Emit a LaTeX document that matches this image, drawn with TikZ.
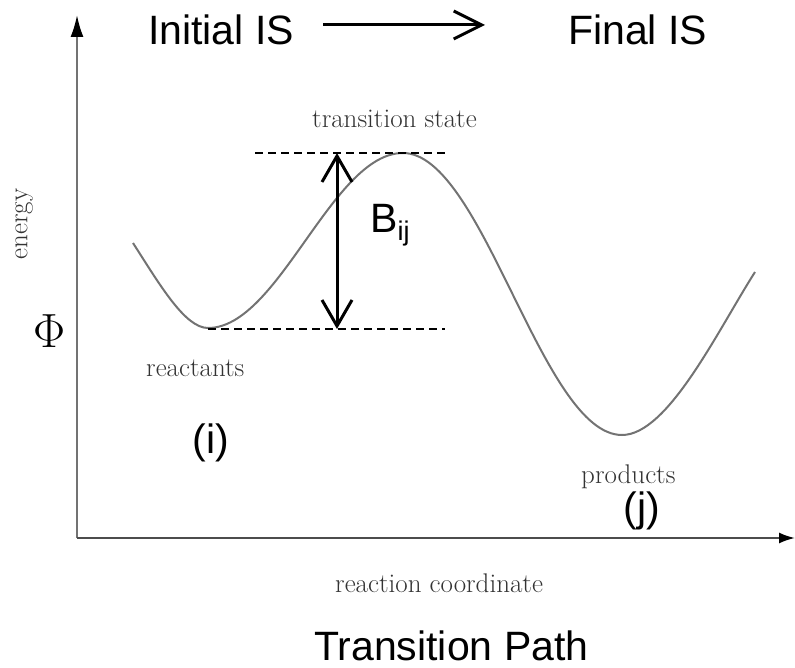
\documentclass[tikz,border=0pt]{standalone}
\usepackage{fontspec}
\newfontfamily\arialfont{Liberation Sans}
\usetikzlibrary{arrows.meta}
\begin{document}
\begin{tikzpicture}[x=1pt,y=-1pt,
  sanslabel/.style={font=\arialfont\fontsize{41}{48}\selectfont, inner sep=0pt},
  seriflabel/.style={font=\fontsize{27}{32}\selectfont, text=black!80, inner sep=0pt},
  yaxis/.style={draw=black!55, line width=2pt, -{Latex[length=22pt,width=13pt,color=black]}},
  xaxis/.style={draw=black!70, line width=2pt, -{Latex[length=16pt,width=11pt,color=black]}},
  curve/.style={draw=black!55, line width=2pt},
  dashline/.style={draw=black, line width=1.5pt, dash pattern=on 8pt off 5pt},
  bararrow/.style={draw=black, line width=3pt, {Straight Barb[length=26pt,width=30pt]}-{Straight Barb[length=26pt,width=30pt]}},
  toparrow/.style={draw=black, line width=3pt, -{Straight Barb[length=28pt,width=28pt]}}]
\useasboundingbox (0,0) rectangle (795,668);
% axes
\coordinate (origin) at (77,538);
\coordinate (ytip) at (77,15);
\coordinate (xtip) at (795,538);
\draw[yaxis] (origin) -- (ytip);
\draw[xaxis] (origin) -- (xtip);
% energy curve
\draw[curve] (133,243) .. controls (160,285) and (185,328) .. (208,328)
  .. controls (279,328) and (332,153) .. (403,153)
  .. controls (483,153) and (542,435) .. (622,435)
  .. controls (668,435) and (718,330) .. (755,272);
% dashed levels
\coordinate (tsL) at (255,153);
\coordinate (tsR) at (448,153);
\coordinate (reL) at (208,329);
\coordinate (reR) at (445,329);
\draw[dashline] (tsL) -- (tsR);
\draw[dashline] (reL) -- (reR);
% barrier arrow
\coordinate (btop) at (337,153);
\coordinate (bbot) at (337,329);
\draw[bararrow] (bbot) -- (btop);
% header
\node[sanslabel, anchor=base west] (init) at (148,45) {Initial IS};
\node[sanslabel, anchor=base west] (final) at (568,45) {Final IS};
\coordinate (aS) at (323,25);
\coordinate (aE) at (485,25);
\draw[toparrow] (aS) -- (aE);
% labels
\node[sanslabel, anchor=base west] (bij) at (370,233) {B\raisebox{-8pt}{\fontsize{27}{30}\selectfont ij}};
\node[sanslabel, anchor=center] (ilab) at (211,443) {(i)};
\node[sanslabel, anchor=center] (jlab) at (642,511) {(j)};
\node[sanslabel, anchor=base west] (path) at (314,660) {Transition Path};
\node[seriflabel, anchor=base west] (ts) at (312,128) {transition state};
\node[seriflabel, anchor=base west] (react) at (146,376) {reactants};
\node[seriflabel, anchor=base west] (prod) at (581,483) {products};
\node[seriflabel, anchor=base west] (rc) at (335,592) {reaction coordinate};
\node[seriflabel, rotate=90, anchor=center] (en) at (24,224) {energy};
\node[inner sep=0pt, font=\fontsize{48}{54}\selectfont, anchor=center] (phi) at (50,331) {Φ};
\end{tikzpicture}
\end{document}
